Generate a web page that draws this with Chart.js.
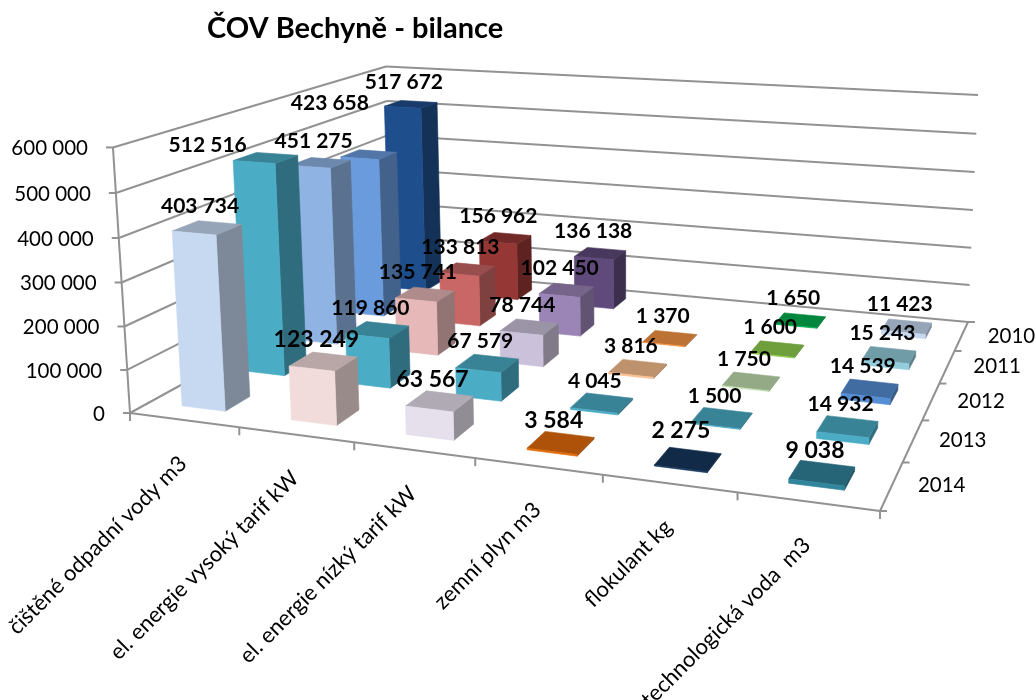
<!DOCTYPE html>
<html><head><meta charset="utf-8">
<style>html,body{margin:0;padding:0;background:#fff;overflow:hidden}#w{width:1036px;height:700px}</style>
<script src="https://cdn.jsdelivr.net/npm/chart.js@4"></script></head>
<body><div id="w"><canvas id="c" width="1036" height="700"></canvas></div>
<script>
const categories=['čištěné odpadní vody m3','el. energie vysoký tarif kW','el. energie nízký tarif kW','zemní plyn m3','flokulant kg','technologická voda  m3'];
const years=['2010','2011','2012','2013','2014'];
const values2010=[517672,156962,136138,null,1650,11423];
const values2011=[423658,133813,102450,1370,1600,15243];
const values2012=[451275,135741,78744,3816,1750,14539];
const values2013=[512516,119860,67579,4045,1500,14932];
const values2014=[403734,123249,63567,3584,2275,9038];
const colors2010=['#1F4E8C','#953735','#604A7B','#F79646','#00B050','#C6D9F1'];
const colors2011=['#6A9BDC','#C96666','#9B84B6','#F79646','#92D050','#93CDDD'];
const colors2012=['#8FB3E3','#E6B8B7','#CCC1DA','#FAC090','#C3E0B0','#558ED5'];
const colors2013=['#4BACC6','#4BACC6','#4BACC6','#4BACC6','#4BACC6','#4BACC6'];
const colors2014=['#C6D9F1','#F2DCDB','#E6E0EC','#E36C0A','#17375E','#31859C'];
const series=[values2010,values2011,values2012,values2013,values2014];
const colors=[colors2010,colors2011,colors2012,colors2013,colors2014];

const FONT='Lato, Carlito, sans-serif';
const floor=[[130,413],[880,511],[968,322],[392,269]];
const wallTop=[[0,0,113,147],[0,1,386,65],[1,1,978,97]];
const TOP_SHADE=.76,SIDE_SHADE=.63,DEPTH_PCT=.4;
// hand-placed data labels in the reference, as offsets from the default spot (year/category index)
const labelNudge={'2011/0':[-32,-29],'2013/0':[-51,9],'2014/4':[0,-7]};
// data labels drawn in a larger size in the reference
const largeLabels=['2014/1','2014/2','2014/3','2014/4','2014/5'];

function buildH(){
 const [[x0,y0],[x1,y1],[x2,y2],[x3,y3]]=floor;
 const sx=x0-x1+x2-x3,sy=y0-y1+y2-y3,dx1=x1-x2,dx2=x3-x2,dy1=y1-y2,dy2=y3-y2,den=dx1*dy2-dx2*dy1;
 const g=(sx*dy2-dx2*sy)/den,h=(dx1*sy-sx*dy1)/den;
 const H=[[x1-x0+g*x1,x3-x0+h*x3,x0],[y1-y0+g*y1,y3-y0+h*y3,y0],[g,h,1]];
 const rows=[],rhs=[];
 wallTop.forEach(([u,v,px,py])=>{
  const p=H.map(r=>r[0]*u+r[1]*v+r[2]);
  rows.push([1,0,-px]);rhs.push(px*p[2]-p[0]);
  rows.push([0,1,-py]);rhs.push(py*p[2]-p[1]);
 });
 const N=[0,1,2].map(i=>[0,1,2].map(j=>rows.reduce((s,r)=>s+r[i]*r[j],0)).concat(rows.reduce((s,r,k)=>s+r[i]*rhs[k],0)));
 for(let i=0;i<3;i++){for(let k=i+1;k<3;k++){if(Math.abs(N[k][i])>Math.abs(N[i][i]))[N[i],N[k]]=[N[k],N[i]];}
  for(let k=0;k<3;k++){if(k!==i){const f=N[k][i]/N[i][i];for(let j=i;j<4;j++)N[k][j]-=f*N[i][j];}}}
 return {H,Z:[N[0][3]/N[0][0],N[1][3]/N[1][1],N[2][3]/N[2][2]]};
}
const {H,Z}=buildH();
function proj(u,v,z){
 const p=[0,1,2].map(i=>H[i][0]*u+H[i][1]*v+H[i][2]+z*Z[i]);
 return [p[0]/p[2],p[1]/p[2]];
}
function shade(hex,k){
 const n=parseInt(hex.slice(1),16);
 return 'rgb('+[n>>16,(n>>8)&255,n&255].map(c=>Math.round(c*k)).join(',')+')';
}
function poly(ctx,pts,fill){
 ctx.beginPath();pts.forEach((p,i)=>i?ctx.lineTo(p[0],p[1]):ctx.moveTo(p[0],p[1]));ctx.closePath();
 ctx.fillStyle=fill;ctx.fill();ctx.strokeStyle=fill;ctx.lineWidth=.6;ctx.stroke();
}
function barBox(chart,el,dsIndex){
 const a=chart.chartArea,d=chart.scales.depth;
 const yr=chart.data.datasets[dsIndex].label;
 const vc=(d.getPixelForValue(years.indexOf(yr))-d.left)/d.width;
 const dh=DEPTH_PCT/years.length/2;
 const u0=(el.x-el.width/2-a.left)/a.width,u1=(el.x+el.width/2-a.left)/a.width;
 const z=(el.base-el.y)/(a.bottom-a.top);
 return {u0,u1,v0:vc-dh,v1:vc+dh,z};
}
class Bar3D extends Chart.BarController{
 draw(){
  const chart=this.chart,ctx=chart.ctx,ds=this.getDataset(),idx=this.index;
  this.getMeta().data.forEach((el,i)=>{
   if(ds.data[i]==null)return;
   const b=barBox(chart,el,idx),c=ds.faceColors[i];
   const f=proj;
   poly(ctx,[f(b.u1,b.v0,0),f(b.u1,b.v1,0),f(b.u1,b.v1,b.z),f(b.u1,b.v0,b.z)],shade(c,SIDE_SHADE));
   poly(ctx,[f(b.u0,b.v0,b.z),f(b.u1,b.v0,b.z),f(b.u1,b.v1,b.z),f(b.u0,b.v1,b.z)],shade(c,TOP_SHADE));
   poly(ctx,[f(b.u0,b.v0,0),f(b.u1,b.v0,0),f(b.u1,b.v0,b.z),f(b.u0,b.v0,b.z)],c);
  });
 }
}
Bar3D.id='bar3d';
Bar3D.defaults=Chart.BarController.defaults;
Bar3D.overrides=Chart.BarController.overrides;
Chart.register(Bar3D);

const fmt=v=>String(v).replace(/\B(?=(\d{3})+$)/g,' ');
function line(ctx,a,b){ctx.beginPath();ctx.moveTo(a[0],a[1]);ctx.lineTo(b[0],b[1]);ctx.stroke();}
const frame={id:'frame',
 beforeDatasetsDraw(chart){
  const ctx=chart.ctx,y=chart.scales.y,a=chart.chartArea,x=chart.scales.x,d=chart.scales.depth;
  ctx.save();ctx.strokeStyle='#929292';ctx.lineWidth=2;
  y.ticks.forEach((t,i)=>{
   const z=(a.bottom-y.getPixelForTick(i))/(a.bottom-a.top);
   const p=proj(0,0,z),q=proj(0,1,z),r=proj(1,1,z);
   line(ctx,[p[0]-7,p[1]],p);line(ctx,p,q);line(ctx,q,r);
  });
  line(ctx,proj(0,0,0),proj(0,0,1));
  line(ctx,proj(0,0,0),proj(1,0,0));
  line(ctx,proj(1,0,0),proj(1,1,0));
  for(let i=0;i<=categories.length;i++){const p=proj(i/categories.length,0,0);line(ctx,p,[p[0],p[1]+8]);}
  for(let j=0;j<=years.length;j++){const p=proj(1,j/years.length,0);line(ctx,p,[p[0]+7,p[1]]);}
  ctx.fillStyle='#000';ctx.textBaseline='middle';ctx.font='20.5px '+FONT;ctx.textAlign='right';
  y.ticks.forEach((t,i)=>{
   const z=(a.bottom-y.getPixelForTick(i))/(a.bottom-a.top),p=proj(0,0,z);
   ctx.fillText(t.label,p[0]-25,p[1]+1);
  });
  ctx.textAlign='center';
  years.forEach((yr,j)=>{
   const v=(d.getPixelForValue(j)-d.left)/d.width,p=proj(1,v,0);
   ctx.fillText(yr,p[0]+50,p[1]);
  });
  ctx.font='22px '+FONT;
  x.ticks.forEach((t,i)=>{
   const p=proj((x.getPixelForTick(i)-a.left)/a.width,0,0);
   ctx.save();ctx.translate(p[0]-1,p[1]+40);ctx.rotate(-Math.PI/4);ctx.textAlign='right';
   ctx.fillText(categories[i],0,0);ctx.restore();
  });
  ctx.restore();
 },
 afterDatasetsDraw(chart){
  const ctx=chart.ctx;ctx.save();ctx.fillStyle='#000';ctx.textAlign='center';ctx.textBaseline='middle';
  chart.data.datasets.forEach((ds,di)=>{
   const els=chart.getDatasetMeta(di).data;
   ds.data.forEach((v,i)=>{
    if(v==null)return;
    const key=ds.label+'/'+i,b=barBox(chart,els[i],di),p=proj((b.u0+b.u1)/2,(b.v0+b.v1)/2,b.z);
    const n=labelNudge[key]||[0,0];
    ctx.font='bold '+(largeLabels.includes(key)?23:21)+'px '+FONT;
    ctx.fillText(fmt(v),p[0]-7+n[0],p[1]-22+n[1]);
   });
  });
  ctx.restore();
 },
 beforeDraw(chart){chart.titleBlock.left=207;chart.titleBlock.right=600;chart.titleBlock.top=11.6;}
};
new Chart(document.getElementById('c'),{
 type:'bar3d',
 data:{labels:categories,datasets:years.map((y,j)=>({label:y,data:series[j],faceColors:colors[j],order:years.length-1-j,backgroundColor:colors[j],clip:false}))},
 options:{responsive:false,animation:false,
  layout:{padding:{left:130,top:112.2,right:156,bottom:287}},
  datasets:{bar3d:{grouped:false,barPercentage:.4,categoryPercentage:1}},
  plugins:{legend:{display:false},tooltip:{enabled:false},
   title:{display:true,text:'ČOV Bechyně - bilance',align:'start',color:'#000',padding:0,font:{family:FONT,size:29,weight:'bold',lineHeight:1.2}}},
  scales:{
   x:{type:'category',offset:true,grid:{display:false},border:{display:false},ticks:{display:false}},
   depth:{axis:'x',type:'category',labels:years,reverse:true,offset:true,display:false},
   y:{type:'linear',min:0,max:600000,grid:{display:false},border:{display:false},
    ticks:{display:false,stepSize:100000,callback:fmt}}
  }
 },
 plugins:[frame]
});
</script></body></html>
